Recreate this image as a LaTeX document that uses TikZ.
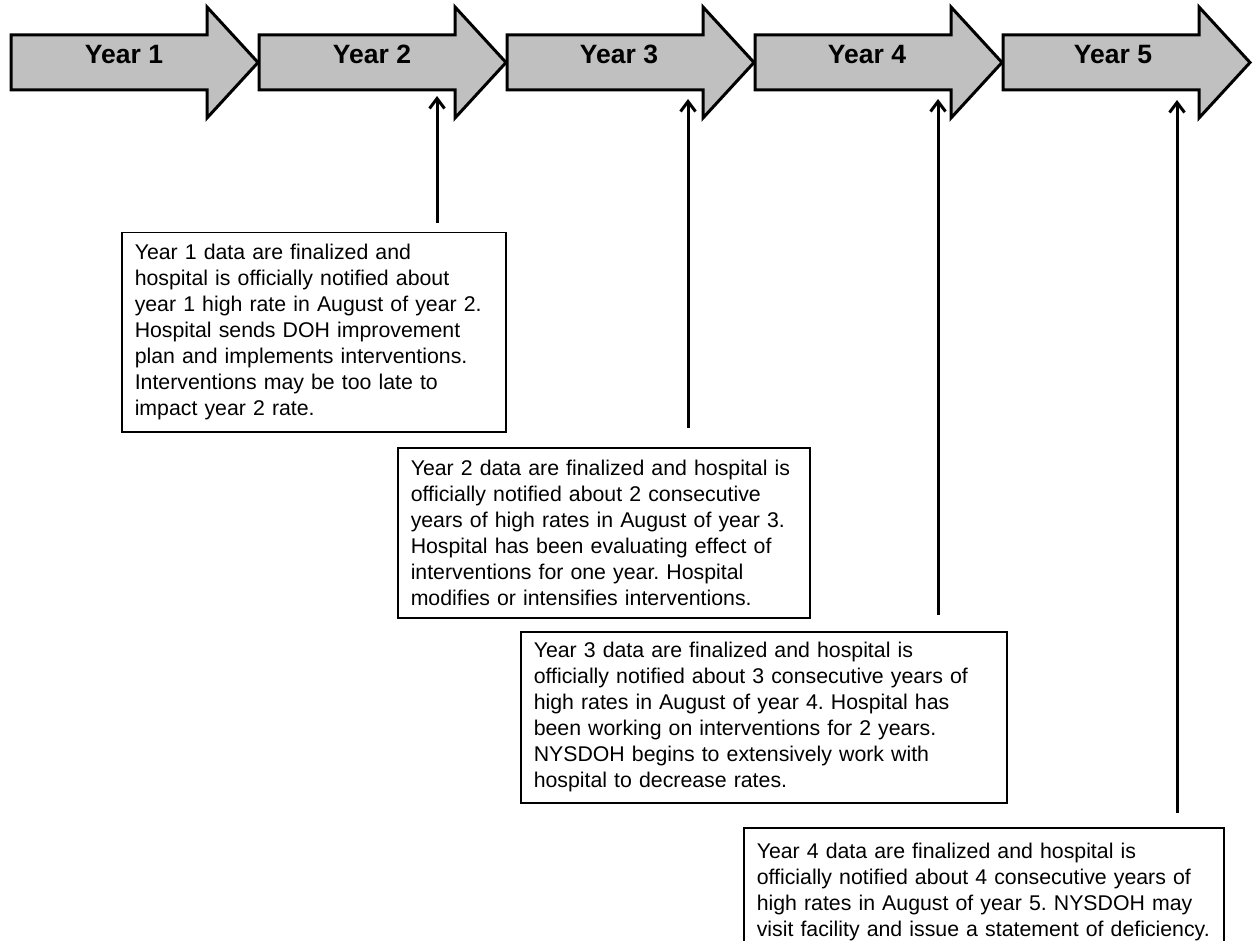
\documentclass[tikz,border=0pt]{standalone}
\usepackage{fontspec}
\setmainfont{Liberation Sans}
\usepackage{tikz}
\usetikzlibrary{arrows.meta}
\definecolor{grisito}{RGB}{192,192,192}
\newcommand{\notefont}{\fontsize{21.3}{26}\selectfont}
\newcommand{\yearfont}{\fontsize{26.5}{30}\selectfont\bfseries}
\frenchspacing
\tikzset{>={Straight Barb[length=10pt,width=15pt]}}
\tikzset{yeararrow/.style={draw=black, line width=3pt, fill=grisito, line join=miter},
	yearlabel/.style={font=\yearfont, anchor=base},
	notebox/.style={draw=black, line width=1.5pt, anchor=north west, align=left, inner xsep=13pt, inner ysep=0pt, font=\notefont},
	pointer/.style={->, line width=3pt}}

\begin{document}
\begin{tikzpicture}[x=1pt,y=-1pt]
	
		\useasboundingbox (0,0) rectangle (1253,941);
		\clip (0,0) rectangle (1253,941);
		
		% the five years
		\draw[yeararrow] (11,35) -- ++(196,0) -- ++(0,-28) -- ++(51,55.5) -- ++(-51,55.5) -- ++(0,-28) -- ++(-196,0) -- cycle;
		\draw[yeararrow] (259,35) -- ++(196,0) -- ++(0,-28) -- ++(51,55.5) -- ++(-51,55.5) -- ++(0,-28) -- ++(-196,0) -- cycle;
		\draw[yeararrow] (507,35) -- ++(196,0) -- ++(0,-28) -- ++(51,55.5) -- ++(-51,55.5) -- ++(0,-28) -- ++(-196,0) -- cycle;
		\draw[yeararrow] (755,35) -- ++(196,0) -- ++(0,-28) -- ++(51,55.5) -- ++(-51,55.5) -- ++(0,-28) -- ++(-196,0) -- cycle;
		\draw[yeararrow] (1003,35) -- ++(196,0) -- ++(0,-28) -- ++(51,55.5) -- ++(-51,55.5) -- ++(0,-28) -- ++(-196,0) -- cycle;
		\node[yearlabel] (y1) at (124,64) {Year 1};
		\node[yearlabel] (y2) at (372,64) {Year 2};
		\node[yearlabel] (y3) at (619,64) {Year 3};
		\node[yearlabel] (y4) at (867,64) {Year 4};
		\node[yearlabel] (y5) at (1113,64) {Year 5};
		
		\coordinate (t1) at (437,96);
		\coordinate (t2) at (688,99);
		\coordinate (t3) at (938,99);
		\coordinate (t4) at (1177,100);
		
		% notes
		\node[notebox, text width=358pt, minimum height=199pt] (n1) at (121,232) {Year 1 data are finalized and\\ hospital is officially notified about\\ year 1 high rate in August of year 2.\\ Hospital sends DOH improvement\\ plan and implements interventions.\\ Interventions may be too late to\\ impact year 2 rate.};
		\node[notebox, text width=386pt, minimum height=170pt] (n2) at (397,447) {Year 2 data are finalized and hospital is\\ officially notified about 2 consecutive\\ years of high rates in August of year 3.\\ Hospital has been evaluating effect of\\ interventions for one year. Hospital\\ modifies or intensifies interventions.};
		\node[notebox, text width=460pt, minimum height=171pt] (n3) at (520,631) {Year 3 data are finalized and hospital is\\ officially notified about 3 consecutive years of\\ high rates in August of year 4. Hospital has\\ been working on interventions for 2 years.\\ NYSDOH begins to extensively work with\\ hospital to decrease rates.};
		\node[notebox, text width=454pt, minimum height=128pt] (n4) at (743,827) {Year 4 data are finalized and hospital is\\ officially notified about 4 consecutive years of\\ high rates in August of year 5. NYSDOH may\\ visit facility and issue a statement of deficiency.};
		
		\draw[pointer, shorten <=9pt] (n1.north -| t1) -- (t1);
		\draw[pointer, shorten <=19pt] (n2.north -| t2) -- (t2);
		\draw[pointer, shorten <=16pt] (n3.north -| t3) -- (t3);
		\draw[pointer, shorten <=14pt] (n4.north -| t4) -- (t4);
		
	\end{tikzpicture}
\end{document}
